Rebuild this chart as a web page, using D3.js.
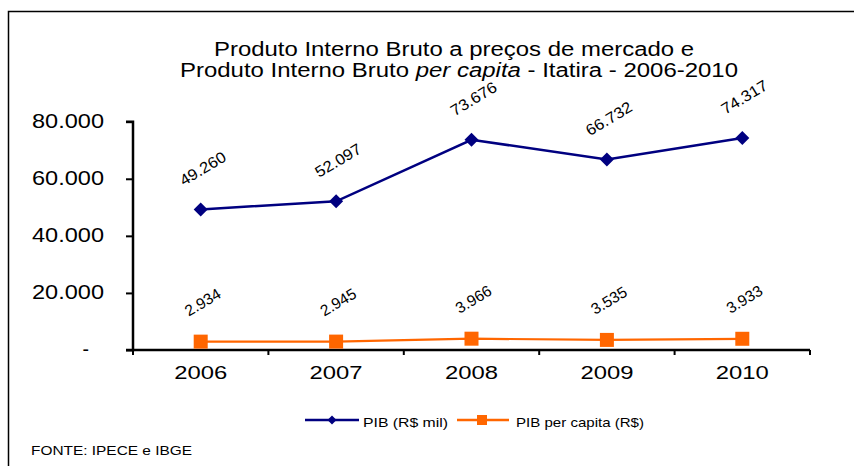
<!DOCTYPE html>
<html><head><meta charset="utf-8">
<script src="https://cdn.jsdelivr.net/npm/d3@7"></script>
<style>body{margin:0;background:#fff}svg{display:block;font-family:"Liberation Sans",Arial,sans-serif}</style>
</head><body><svg id="c" width="854" height="466"></svg>
<script>
const years = ["2006","2007","2008","2009","2010"];
const pib = [49260, 52097, 73676, 66732, 74317];
const pibPerCapita = [2934, 2945, 3966, 3535, 3933];
const yTicks = [0, 20000, 40000, 60000, 80000];
const seriesNames = ["PIB (R$ mil)", "PIB per capita (R$)"];
const titleLines = ["Produto Interno Bruto a preços de mercado  e", ["Produto Interno Bruto ", "per capita", " - Itatira - 2006-2010"]];
const source = "FONTE: IPECE e IBGE";

const svg = d3.select("#c");
const fmt = v => v === 0 ? "-" : d3.format(",")(v).replace(/,/g, ".");
const SG = "spacingAndGlyphs";

// frame
svg.append("path").attr("d","M8.5,466 V11.5 H854").attr("fill","none").attr("stroke","#000").attr("stroke-width",1.5);

// title
svg.append("text").attr("x",214).attr("y",56).attr("font-size",19.5)
  .attr("textLength",480).attr("lengthAdjust",SG).attr("fill","#000").text(titleLines[0]);
const t2 = svg.append("text").attr("x",180).attr("y",77).attr("font-size",19.5)
  .attr("textLength",558).attr("lengthAdjust",SG).attr("fill","#000");
t2.append("tspan").text(titleLines[1][0]);
t2.append("tspan").attr("font-style","italic").text(titleLines[1][1]);
t2.append("tspan").text(titleLines[1][2]);

const x = d3.scaleBand().domain(years).range([133, 810]);
const y = d3.scaleLinear().domain([0, 80000]).range([350, 121.7]);
const cx = d => x(d) + x.bandwidth()/2;

// y axis
const ya = svg.append("g").attr("transform","translate(133,0)")
  .call(d3.axisLeft(y).tickValues(yTicks).tickSize(7).tickPadding(22).tickFormat(fmt));
ya.select(".domain").attr("stroke-width",2.5).attr("d","M-7,121.7H0V350H-7");
ya.selectAll(".tick line").attr("stroke-width",2);
ya.selectAll(".tick text").attr("font-size",19.5).attr("font-family","Liberation Sans, Arial, sans-serif").attr("fill","#000")
  .attr("dy","0.3em")
  .each(function(d){ const s=d3.select(this); if(d===0){ s.attr("x",-44);} else { s.attr("textLength",72).attr("lengthAdjust",SG); } });

// x axis
const xa = svg.append("g").attr("transform","translate(0,350)")
  .call(d3.axisBottom(x).tickSize(0).tickPadding(16));
xa.select(".domain").attr("stroke-width",2.5).attr("d","M133,0H810");
xa.selectAll(".tick text").attr("font-size",19).attr("font-family","Liberation Sans, Arial, sans-serif").attr("fill","#000")
  .attr("textLength",53).attr("lengthAdjust",SG);
const bounds = years.map(d => x(d)).concat([810]);
svg.append("g").selectAll("line").data(bounds).join("line")
  .attr("x1",d=>d).attr("x2",d=>d).attr("y1",350).attr("y2",355).attr("stroke","#000").attr("stroke-width",2);

const line = d3.line().x((d,i)=>cx(years[i])).y(d=>y(d));

// orange series
svg.append("path").datum(pibPerCapita).attr("d",line).attr("fill","none").attr("stroke","#FF6600").attr("stroke-width",2.2);
svg.append("g").selectAll("rect").data(pibPerCapita).join("rect")
  .attr("x",(d,i)=>cx(years[i])-7).attr("y",d=>y(d)-7).attr("width",14).attr("height",14).attr("fill","#FF6600");

// blue series
svg.append("path").datum(pib).attr("d",line).attr("fill","none").attr("stroke","#000080").attr("stroke-width",2.5);
svg.append("g").selectAll("path").data(pib).join("path")
  .attr("d","M0,-7L7,0L0,7L-7,0Z")
  .attr("transform",(d,i)=>`translate(${cx(years[i])},${y(d)})`).attr("fill","#000080");

// data labels
function labels(arr, dy){
  svg.append("g").selectAll("text").data(arr).join("text")
    .attr("transform",(d,i)=>`translate(${cx(years[i])+2},${y(d)-dy}) rotate(-31)`)
    .attr("text-anchor","middle").attr("dy","0.35em").attr("font-size",15.5)
    .attr("textLength",d=>fmt(d).length===6?51:39).attr("lengthAdjust",SG)
    .attr("fill","#000").text(d=>fmt(d));
}
labels(pib, 41);
labels(pibPerCapita, 39.5);

// legend
const lg = svg.append("g").attr("font-size",13.5).attr("fill","#000");
lg.append("line").attr("x1",305).attr("x2",359).attr("y1",420).attr("y2",420).attr("stroke","#000080").attr("stroke-width",2.5);
lg.append("path").attr("d","M0,-4.5L4.5,0L0,4.5L-4.5,0Z").attr("transform","translate(332,420)").attr("fill","#000080");
lg.append("text").attr("x",363).attr("y",427).attr("textLength",85).attr("lengthAdjust",SG).text(seriesNames[0]);
lg.append("line").attr("x1",457).attr("x2",509).attr("y1",420).attr("y2",420).attr("stroke","#FF6600").attr("stroke-width",2.5);
lg.append("rect").attr("x",477).attr("y",415).attr("width",10).attr("height",10).attr("fill","#FF6600");
lg.append("text").attr("x",516).attr("y",427).attr("textLength",128).attr("lengthAdjust",SG).text(seriesNames[1]);

svg.append("text").attr("x",31).attr("y",455).attr("font-size",13).attr("textLength",161).attr("lengthAdjust",SG).attr("fill","#000").text(source);
</script></body></html>
